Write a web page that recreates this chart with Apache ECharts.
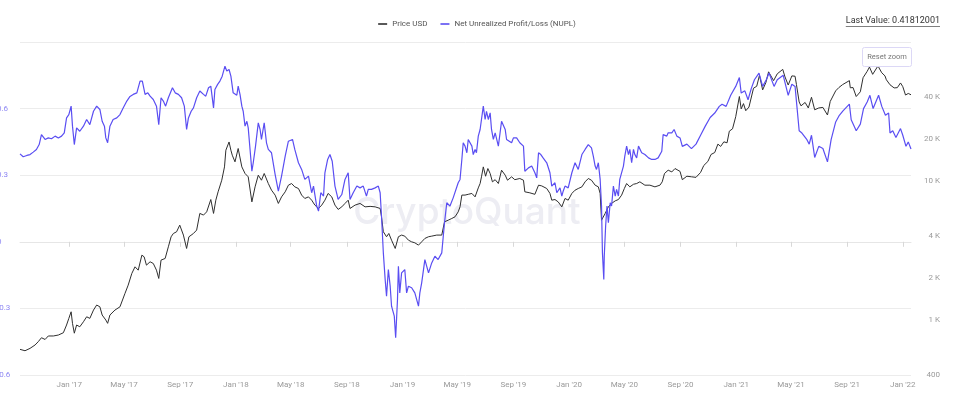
<!DOCTYPE html>
<html>
<head>
<meta charset="utf-8">
<script src="https://cdn.jsdelivr.net/npm/echarts@6/dist/echarts.min.js"></script>
<style>
html,body{margin:0;padding:0;background:#fff;}
#chart{width:954px;height:396px;}
</style>
</head>
<body>
<div id="chart"></div>
<script>
// ---------- DATA ----------
const nuplDates = [
'2016-09-15','2016-09-22','2016-09-30','2016-10-07','2016-10-14','2016-10-21','2016-10-27','2016-11-01','2016-11-09','2016-11-16',
'2016-11-23','2016-12-01','2016-12-08','2016-12-15','2016-12-21','2016-12-26','2016-12-31','2017-01-05','2017-01-08','2017-01-12',
'2017-01-17','2017-01-24','2017-02-01','2017-02-08','2017-02-15','2017-02-23','2017-03-02','2017-03-09','2017-03-14','2017-03-19',
'2017-03-22','2017-03-26','2017-03-31','2017-04-07','2017-04-15','2017-04-22','2017-04-29','2017-05-07','2017-05-14','2017-05-21',
'2017-05-29','2017-06-05','2017-06-10','2017-06-16','2017-06-22','2017-06-27','2017-07-04','2017-07-11','2017-07-16','2017-07-21',
'2017-07-26','2017-07-31','2017-08-06','2017-08-15','2017-08-21','2017-08-28','2017-09-04','2017-09-10','2017-09-15','2017-09-19',
'2017-09-25','2017-09-30','2017-10-07','2017-10-14','2017-10-22','2017-10-27','2017-11-02','2017-11-07','2017-11-13','2017-11-16',
'2017-11-22','2017-11-27','2017-12-02','2017-12-08','2017-12-12','2017-12-17','2017-12-21','2017-12-26','2017-12-30','2018-01-03',
'2018-01-06','2018-01-10','2018-01-14','2018-01-17','2018-01-21','2018-01-25','2018-01-28','2018-02-01','2018-02-05','2018-02-08',
'2018-02-13','2018-02-19','2018-02-23','2018-02-26','2018-03-04','2018-03-09','2018-03-13','2018-03-20','2018-03-28','2018-04-04',
'2018-04-11','2018-04-19','2018-04-26','2018-05-05','2018-05-10','2018-05-18','2018-05-25','2018-06-01','2018-06-09','2018-06-16',
'2018-06-20','2018-06-27','2018-07-01','2018-07-06','2018-07-12','2018-07-15','2018-07-21','2018-07-26','2018-07-31','2018-08-06',
'2018-08-13','2018-08-21','2018-08-28','2018-09-04','2018-09-08','2018-09-15','2018-09-23','2018-09-30','2018-10-07','2018-10-14',
'2018-10-18','2018-10-25','2018-11-02','2018-11-09','2018-11-13','2018-11-16','2018-11-20','2018-11-24','2018-11-27','2018-12-01',
'2018-12-05','2018-12-08','2018-12-14','2018-12-17','2018-12-21','2018-12-23','2018-12-26','2018-12-30','2019-01-06','2019-01-10',
'2019-01-14','2019-01-21','2019-01-28','2019-02-05','2019-02-08','2019-02-12','2019-02-19','2019-02-27','2019-03-06','2019-03-13',
'2019-03-20','2019-03-28','2019-04-03','2019-04-08','2019-04-15','2019-04-22','2019-04-26','2019-05-03','2019-05-07','2019-05-11',
'2019-05-14','2019-05-18','2019-05-22','2019-05-25','2019-05-29','2019-06-02','2019-06-05','2019-06-09','2019-06-12','2019-06-16',
'2019-06-20','2019-06-23','2019-06-27','2019-07-01','2019-07-04','2019-07-08','2019-07-12','2019-07-15','2019-07-19','2019-07-23',
'2019-07-30','2019-08-06','2019-08-14','2019-08-17','2019-08-21','2019-08-28','2019-09-01','2019-09-08','2019-09-15','2019-09-23',
'2019-09-26','2019-10-04','2019-10-11','2019-10-18','2019-10-22','2019-10-26','2019-10-31','2019-11-05','2019-11-13','2019-11-20',
'2019-11-24','2019-12-01','2019-12-05','2019-12-12','2019-12-16','2019-12-19','2019-12-23','2019-12-30','2020-01-03','2020-01-07',
'2020-01-14','2020-01-21','2020-01-29','2020-02-05','2020-02-12','2020-02-16','2020-02-19','2020-02-23','2020-02-27','2020-03-01',
'2020-03-05','2020-03-09','2020-03-12','2020-03-14','2020-03-17','2020-03-18','2020-03-21','2020-03-24','2020-03-27','2020-03-31',
'2020-04-03','2020-04-07','2020-04-11','2020-04-14','2020-04-18','2020-04-21','2020-04-25','2020-04-29','2020-05-02','2020-05-06',
'2020-05-10','2020-05-13','2020-05-17','2020-05-21','2020-05-24','2020-05-28','2020-06-01','2020-06-08','2020-06-15','2020-06-23',
'2020-06-30','2020-07-07','2020-07-14','2020-07-22','2020-07-25','2020-07-29','2020-08-02','2020-08-05','2020-08-13','2020-08-18',
'2020-08-24','2020-08-31','2020-09-05','2020-09-15','2020-09-25','2020-10-05','2020-10-15','2020-10-25','2020-11-05','2020-11-15',
'2020-11-25','2020-12-01','2020-12-10','2020-12-20','2020-12-31','2021-01-08','2021-01-12','2021-01-20','2021-01-27','2021-02-03',
'2021-02-10','2021-02-20','2021-02-28','2021-03-08','2021-03-14','2021-03-25','2021-04-01','2021-04-14','2021-04-25','2021-05-03',
'2021-05-10','2021-05-19','2021-05-25','2021-06-05','2021-06-10','2021-06-15','2021-06-22','2021-07-01','2021-07-10','2021-07-20',
'2021-07-28','2021-08-07','2021-08-15','2021-08-23','2021-09-06','2021-09-10','2021-09-21','2021-09-30','2021-10-07','2021-10-15',
'2021-10-21','2021-10-28','2021-11-09','2021-11-16','2021-11-24','2021-12-01','2021-12-04','2021-12-10','2021-12-17','2021-12-27',
'2022-01-01','2022-01-08','2022-01-13','2022-01-19'
];
const nuplValues = [
0.396,0.383,0.389,0.393,0.404,0.416,0.438,0.483,0.461,0.468,
0.464,0.476,0.468,0.476,0.491,0.558,0.573,0.611,0.521,0.438,
0.513,0.498,0.521,0.551,0.528,0.588,0.611,0.596,0.543,0.521,
0.468,0.446,0.521,0.551,0.558,0.573,0.603,0.634,0.655,0.664,
0.671,0.724,0.724,0.664,0.671,0.656,0.641,0.611,0.528,0.649,
0.634,0.611,0.649,0.694,0.671,0.664,0.649,0.611,0.506,0.558,
0.588,0.603,0.649,0.679,0.664,0.656,0.694,0.701,0.603,0.686,
0.709,0.724,0.746,0.791,0.769,0.776,0.746,0.671,0.670,0.660,
0.701,0.664,0.611,0.588,0.521,0.543,0.513,0.416,0.318,0.356,
0.431,0.536,0.506,0.461,0.536,0.446,0.416,0.401,0.303,0.228,
0.296,0.386,0.453,0.461,0.416,0.356,0.326,0.281,0.296,0.221,
0.251,0.161,0.138,0.221,0.206,0.311,0.371,0.393,0.363,0.251,
0.191,0.213,0.281,0.311,0.191,0.221,0.251,0.243,0.251,0.206,
0.236,0.236,0.243,0.251,0.221,0.116,-0.050,-0.170,-0.245,-0.125,
-0.200,-0.290,-0.335,-0.432,-0.260,-0.110,-0.230,-0.140,-0.125,-0.230,
-0.200,-0.207,-0.230,-0.290,-0.230,-0.185,-0.080,-0.140,-0.095,-0.065,
-0.080,-0.050,0.086,0.176,0.161,0.198,0.190,0.266,0.281,0.371,
0.446,0.431,0.401,0.461,0.468,0.431,0.393,0.416,0.401,0.476,
0.506,0.551,0.611,0.551,0.588,0.551,0.581,0.506,0.461,0.491,
0.431,0.543,0.506,0.461,0.468,0.446,0.468,0.468,0.446,0.431,
0.318,0.333,0.341,0.311,0.288,0.401,0.393,0.378,0.356,0.311,
0.251,0.266,0.221,0.243,0.206,0.228,0.251,0.243,0.243,0.311,
0.356,0.326,0.393,0.416,0.438,0.446,0.423,0.386,0.341,0.326,
0.356,0.281,0.161,-0.050,-0.170,-0.065,0.071,0.161,0.086,0.176,
0.161,0.251,0.206,0.236,0.206,0.281,0.281,0.341,0.386,0.431,
0.393,0.416,0.356,0.416,0.393,0.378,0.431,0.401,0.393,0.378,
0.371,0.371,0.378,0.408,0.483,0.491,0.476,0.491,0.491,0.506,
0.476,0.468,0.430,0.440,0.420,0.440,0.480,0.520,0.560,0.580,
0.610,0.620,0.610,0.660,0.700,0.740,0.670,0.680,0.640,0.690,
0.730,0.760,0.700,0.730,0.760,0.700,0.730,0.750,0.660,0.710,
0.700,0.500,0.490,0.460,0.440,0.480,0.380,0.430,0.420,0.360,
0.460,0.540,0.570,0.590,0.620,0.550,0.500,0.530,0.600,0.630,
0.660,0.600,0.660,0.610,0.570,0.580,0.490,0.500,0.470,0.510,
0.480,0.430,0.450,0.418
];

const priceDates = [
'2016-09-15','2016-09-26','2016-10-07','2016-10-18','2016-10-25','2016-11-01','2016-11-09','2016-11-16','2016-11-27','2016-12-08',
'2016-12-19','2016-12-26','2016-12-31','2017-01-05','2017-01-08','2017-01-12','2017-01-17','2017-01-24','2017-02-01','2017-02-08',
'2017-02-15','2017-02-23','2017-03-02','2017-03-09','2017-03-14','2017-03-22','2017-03-26','2017-03-31','2017-04-11','2017-04-22',
'2017-05-03','2017-05-10','2017-05-18','2017-05-25','2017-06-01','2017-06-09','2017-06-14','2017-06-19','2017-06-27','2017-07-04',
'2017-07-11','2017-07-16','2017-07-21','2017-07-30','2017-08-06','2017-08-12','2017-08-17','2017-08-24','2017-08-31','2017-09-08',
'2017-09-15','2017-09-20','2017-09-30','2017-10-07','2017-10-14','2017-10-22','2017-10-29','2017-11-07','2017-11-13','2017-11-18',
'2017-11-23','2017-12-01','2017-12-07','2017-12-10','2017-12-17','2017-12-21','2017-12-24','2017-12-30','2018-01-06','2018-01-14',
'2018-01-21','2018-01-28','2018-02-05','2018-02-12','2018-02-19','2018-02-26','2018-03-04','2018-03-13','2018-03-20','2018-03-28',
'2018-04-04','2018-04-11','2018-04-19','2018-04-26','2018-05-03','2018-05-10','2018-05-18','2018-05-25','2018-06-01','2018-06-09',
'2018-06-16','2018-06-23','2018-07-01','2018-07-08','2018-07-15','2018-07-22','2018-07-30','2018-08-06','2018-08-13','2018-08-21',
'2018-08-28','2018-09-04','2018-09-08','2018-09-19','2018-09-30','2018-10-11','2018-10-22','2018-11-02','2018-11-13','2018-11-16',
'2018-11-20','2018-11-27','2018-12-02','2018-12-08','2018-12-16','2018-12-23','2018-12-30','2019-01-06','2019-01-14','2019-01-21',
'2019-01-28','2019-02-05','2019-02-12','2019-02-19','2019-02-27','2019-03-06','2019-03-17','2019-03-28','2019-04-03','2019-04-11',
'2019-04-19','2019-04-26','2019-05-03','2019-05-07','2019-05-11','2019-05-18','2019-05-25','2019-06-02','2019-06-09','2019-06-16',
'2019-06-20','2019-06-23','2019-06-27','2019-07-02','2019-07-07','2019-07-12','2019-07-17','2019-07-23','2019-07-30','2019-08-06',
'2019-08-14','2019-08-19','2019-08-28','2019-09-04','2019-09-15','2019-09-23','2019-09-26','2019-10-07','2019-10-18','2019-10-22',
'2019-10-26','2019-11-02','2019-11-13','2019-11-20','2019-11-24','2019-12-01','2019-12-08','2019-12-16','2019-12-23','2019-12-30',
'2020-01-03','2020-01-07','2020-01-14','2020-01-21','2020-01-29','2020-02-05','2020-02-12','2020-02-19','2020-02-27','2020-03-05',
'2020-03-09','2020-03-12','2020-03-15','2020-03-20','2020-03-27','2020-04-03','2020-04-11','2020-04-18','2020-04-25','2020-05-01',
'2020-05-06','2020-05-13','2020-05-21','2020-05-28','2020-06-04','2020-06-15','2020-06-26','2020-07-07','2020-07-18','2020-07-23',
'2020-07-28','2020-08-05','2020-08-13','2020-08-20','2020-08-31','2020-09-05','2020-09-15','2020-09-25','2020-10-05','2020-10-15',
'2020-10-22','2020-10-31','2020-11-07','2020-11-15','2020-11-22','2020-11-28','2020-12-05','2020-12-12','2020-12-17','2020-12-24',
'2020-12-31','2021-01-08','2021-01-12','2021-01-17','2021-01-22','2021-01-29','2021-02-08','2021-02-15','2021-02-21','2021-02-28',
'2021-03-07','2021-03-13','2021-03-24','2021-04-01','2021-04-13','2021-04-18','2021-04-25','2021-05-03','2021-05-10','2021-05-13',
'2021-05-19','2021-05-23','2021-06-01','2021-06-08','2021-06-15','2021-06-22','2021-07-01','2021-07-10','2021-07-20','2021-07-26',
'2021-08-07','2021-08-14','2021-08-22','2021-09-06','2021-09-08','2021-09-14','2021-09-21','2021-09-30','2021-10-06','2021-10-15',
'2021-10-20','2021-10-27','2021-11-08','2021-11-10','2021-11-16','2021-11-23','2021-11-26','2021-12-04','2021-12-13','2021-12-20',
'2021-12-27','2022-01-01','2022-01-07','2022-01-13','2022-01-19'
];
const priceValues = [
612,598,622,658,695,742,721,764,764,776,
806,916,1023,1141,942,800,916,890,967,1050,
1023,1174,1276,1239,1081,995,942,1081,1174,1239,
1548,1775,2156,2405,2275,2918,2838,2473,2614,2542,
2275,1983,2688,2762,3350,3954,4180,4297,4800,4070,
3260,3954,4180,4420,5830,5670,5985,7340,5830,7260,
8340,10110,12610,16630,19060,16630,15310,13710,17100,12610,
11300,10690,7060,9055,10990,10110,11300,9570,8570,7890,
6880,7670,8340,9310,9570,9055,8810,7900,7470,7670,
7260,6690,6330,6690,7260,8120,7670,6690,6230,6500,
6880,7260,6330,6690,6880,6500,6550,6500,6330,5510,
4300,3960,4180,3740,3260,3960,4070,4000,3740,3640,
3580,3445,3640,3850,3960,4000,4070,4070,5070,5210,
5360,5510,5980,6500,7900,7900,8000,8120,7670,8900,
9570,10690,12610,10800,12270,11300,9840,10200,9570,11940,
10990,10110,10690,10200,10400,10110,8340,8200,8000,7750,
9310,9200,8810,8120,7260,7340,7060,6500,7470,7260,
7340,8120,8570,8810,9055,9840,10400,10110,9310,9055,
8120,5210,5070,5830,6500,6880,7180,7340,7890,8810,
9570,9055,9450,9570,9840,9310,9310,9055,9310,9840,
11300,11940,11600,12270,11700,10200,10800,10700,10600,11500,
12900,13800,15500,16000,18400,17700,19100,18800,22800,23700,
29000,40500,33000,36000,32000,34000,46500,48000,57500,45200,
51000,61000,52700,59000,63500,56000,49000,57000,56700,49500,
37000,34700,36700,33500,40000,32500,33500,33800,29800,37300,
44500,47000,49300,52700,46800,47000,40500,43800,55300,61500,
66000,58500,67500,65000,60000,57000,53500,49200,46700,46900,
50700,47700,41500,42600,41700
];

const xTickDates = ['2017-01-01','2017-05-01','2017-09-01','2018-01-01','2018-05-01','2018-09-01','2019-01-01','2019-05-01','2019-09-01','2020-01-01','2020-05-01','2020-09-01','2021-01-01','2021-05-01','2021-09-01','2022-01-01'];
const priceTicks = [400, 1000, 2000, 4000, 10000, 20000, 40000];
const nuplMin = -0.6, nuplMax = 0.9, nuplStep = 0.3;
const priceMin = 400, priceMax = 100000;
const xStart = '2016-09-15', xEnd = '2022-01-19';
const seriesNames = ['Price USD', 'Net Unrealized Profit/Loss (NUPL)'];
const lastValueText = 'Last Value: 0.41812001';
const monthNames = ['Jan','Feb','Mar','Apr','May','Jun','Jul','Aug','Sep','Oct','Nov','Dec'];

// ---------- CHART ----------
const chart = echarts.init(document.getElementById('chart'), null, {renderer: 'canvas'});
const FONT = 'Roboto';
const toMs = function (s) { return Date.parse(s + 'T00:00:00Z'); };

const mctx = document.createElement('canvas').getContext('2d');
mctx.font = '9px ' + FONT;
const lvWidth = mctx.measureText(lastValueText).width;

const xTickMs = xTickDates.map(toMs);

const option = {
  animation: false,
  backgroundColor: '#ffffff',
  textStyle: {fontFamily: FONT},
  legend: {
    data: seriesNames,
    top: 15,
    left: 'center',
    icon: 'rect',
    itemWidth: 9,
    itemHeight: 1.6,
    itemGap: 13,
    selectedMode: false,
    textStyle: {fontSize: 8, color: '#555', fontFamily: FONT}
  },
  grid: {left: 20, right: 43, top: 42, bottom: 21, containLabel: false, outerBoundsMode: 'none'},
  xAxis: {
    type: 'value',
    min: toMs(xStart),
    max: toMs(xEnd),
    axisLine: {show: true, lineStyle: {color: '#e6e6e6', width: 1}},
    axisTick: {show: true, length: 5, lineStyle: {color: '#d8d8d8'}, customValues: xTickMs},
    splitLine: {show: false},
    axisLabel: {
      customValues: xTickMs,
      color: '#999',
      fontSize: 8,
      fontFamily: FONT,
      margin: 6,
      formatter: function (val) {
        const d = new Date(val);
        return monthNames[d.getUTCMonth()] + " '" + String(d.getUTCFullYear()).slice(2);
      }
    }
  },
  yAxis: [
    {
      type: 'value',
      position: 'left',
      min: nuplMin,
      max: nuplMax,
      interval: nuplStep,
      axisLine: {show: false},
      axisTick: {show: false},
      splitLine: {show: true, lineStyle: {color: '#ececec', width: 1}},
      axisLabel: {
        showMaxLabel: false,
        align: 'left',
        margin: 23,
        color: '#8d86f3',
        fontSize: 8,
        fontFamily: FONT,
        padding: [0, 0, 7, 0],
        formatter: function (v) { return String(Math.round(v * 10) / 10); }
      }
    },
    {
      type: 'log',
      logBase: 10,
      min: priceMin,
      max: priceMax,
      show: false,
      splitLine: {show: false}
    },
    {
      type: 'value',
      position: 'right',
      min: Math.log10(priceMin),
      max: Math.log10(priceMax),
      axisLine: {show: false},
      axisTick: {show: false},
      splitLine: {show: false},
      axisLabel: {
        customValues: priceTicks.map(function (t) { return Math.log10(t); }),
        align: 'right',
        margin: 29,
        color: '#9a9a9a',
        fontSize: 8,
        fontFamily: FONT,
        padding: [0, 0, 8, 0],
        formatter: function (v) {
          const n = Math.round(Math.pow(10, v));
          return n >= 1000 ? (n / 1000) + ' K' : String(n);
        }
      }
    }
  ],
  series: [
    {
      name: seriesNames[0],
      type: 'line',
      yAxisIndex: 1,
      data: priceDates.map(function (d, i) { return [toMs(d), priceValues[i]]; }),
      showSymbol: false,
      symbol: 'none',
      lineStyle: {color: '#2f2f2f', width: 1},
      itemStyle: {color: '#2f2f2f'},
      z: 3
    },
    {
      name: seriesNames[1],
      type: 'line',
      yAxisIndex: 0,
      data: nuplDates.map(function (d, i) { return [toMs(d), nuplValues[i]]; }),
      showSymbol: false,
      symbol: 'none',
      lineStyle: {color: '#5a4ef2', width: 1.2},
      itemStyle: {color: '#5a4ef2'},
      z: 4
    }
  ],
  graphic: [
    {
      type: 'text',
      x: 467,
      y: 213,
      z: 0,
      silent: true,
      style: {
        text: 'CryptoQuant',
        font: '500 37px Inter',
        fill: '#ededf3',
        align: 'center',
        verticalAlign: 'middle'
      }
    },
    {
      type: 'text',
      x: 940,
      y: 21,
      z: 10,
      style: {
        text: lastValueText,
        font: '9px ' + FONT,
        fill: '#333',
        align: 'right',
        verticalAlign: 'middle'
      }
    },
    {
      type: 'rect',
      x: 940 - lvWidth,
      y: 26,
      z: 10,
      shape: {width: lvWidth, height: 0.8},
      style: {fill: '#555'}
    },
    {
      type: 'rect',
      x: 862.5,
      y: 47.5,
      z: 10,
      shape: {width: 49, height: 19, r: 2},
      style: {fill: '#fff', stroke: '#dcd8f6', lineWidth: 1}
    },
    {
      type: 'text',
      x: 887,
      y: 57,
      z: 11,
      style: {
        text: 'Reset zoom',
        font: '7.5px ' + FONT,
        fill: '#777',
        align: 'center',
        verticalAlign: 'middle'
      }
    }
  ]
};
chart.setOption(option);
</script>
</body>
</html>
